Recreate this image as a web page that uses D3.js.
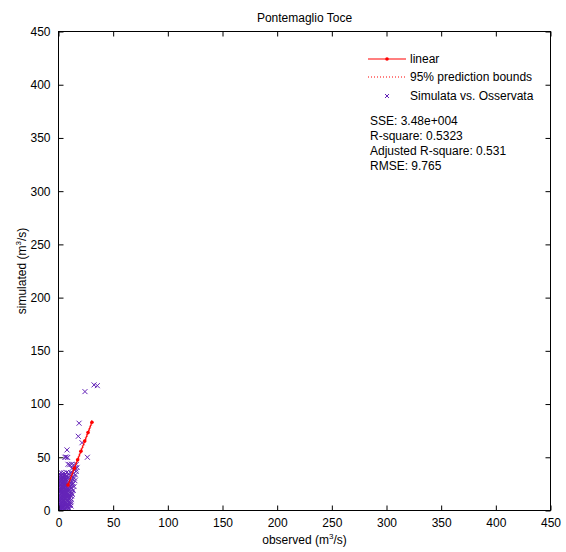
<!DOCTYPE html>
<html><head><meta charset="utf-8">
<script src="https://cdn.jsdelivr.net/npm/d3@7"></script>
<style>body{margin:0;background:#fff;} text{font-family:"Liberation Sans",Arial,sans-serif;}</style>
</head><body><svg id="c" width="566" height="552"></svg>
<script>
const title = "Pontemaglio Toce";
const xTicks = [0,50,100,150,200,250,300,350,400,450];
const yTicks = [0,50,100,150,200,250,300,350,400,450];
// observed vs simulated scatter
const obsX = [0.6,1.4,2.1,3.0,3.8,4.6,5.5,6.3,7.2,8.1,9.0,10.2,
0.8,1.7,2.5,3.4,4.2,5.1,6.0,6.9,7.8,8.7,9.6,10.8,11.5,
0.5,1.3,2.2,3.1,3.9,4.8,5.7,6.6,7.5,8.4,9.3,10.4,11.2,
0.7,1.6,2.4,3.3,4.1,5.0,5.9,6.8,7.7,8.6,9.5,10.6,11.8,
0.6,1.5,2.3,3.2,4.0,4.9,5.8,6.7,7.6,8.5,9.4,10.5,11.9,12.6,
0.8,1.7,2.6,3.5,4.3,5.2,6.1,7.0,7.9,8.8,9.8,10.9,12.2,
0.5,1.4,2.3,3.2,4.1,5.0,5.9,6.8,7.7,8.6,9.6,10.8,12.0,
0.7,1.6,2.5,3.4,4.2,5.1,6.0,6.9,7.8,8.9,10.0,11.3,12.8,
0.6,1.5,2.4,3.3,4.1,5.0,5.9,6.8,7.8,9.0,10.3,11.7,13.5,
0.8,1.7,2.6,3.5,4.4,5.3,6.2,7.2,8.3,9.6,11.0,12.5,
0.9,1.9,2.8,3.8,4.7,5.7,6.7,7.8,9.2,10.7,13.0,
1.2,2.4,3.6,4.9,6.1,7.5,9.3,11.5,14.0,
14.5,15.5,16.2,13.8,12.3,15.0,14.2,13.5,15.8,17.0,
1.1,2.8,4.4,6.6,8.3,1.9,3.6,5.4,7.4,9.9,1.0,3.0,4.7,6.4,8.0,
2.0,3.9,5.6,7.1,1.3,3.3,5.3,7.6,2.6,4.5,6.5,
5.9,7.0,8.4,7.8,8.7,10.3,12.0,14.0,16.2,18.1,18.8,21.5,26.4,24.2,32.5,35.5];
const simY = [1.2,0.5,2.3,1.1,2.8,0.9,2.0,1.4,2.6,1.0,2.2,1.5,
4.5,5.8,4.1,5.3,4.0,6.1,4.6,5.5,4.3,6.0,4.8,5.6,4.2,
7.6,8.9,7.2,8.4,7.0,9.1,7.8,8.6,7.3,9.0,7.9,8.5,7.4,
10.5,11.8,10.1,11.3,10.0,12.0,10.8,11.6,10.3,12.1,10.9,11.5,10.2,
13.4,14.8,13.1,14.3,13.0,15.1,13.7,14.6,13.3,15.0,13.9,14.4,13.5,15.2,
16.6,17.9,16.2,17.4,16.0,18.1,16.8,17.6,16.4,18.0,16.9,17.5,16.3,
19.5,20.9,19.2,20.4,19.0,21.1,19.8,20.6,19.3,21.0,19.9,20.5,21.2,
22.6,23.9,22.2,23.4,22.0,24.1,22.8,23.6,22.3,24.0,22.9,23.5,24.3,
25.5,26.8,25.2,26.4,25.0,27.1,25.8,26.5,25.3,27.0,25.9,26.6,25.4,
28.6,29.9,28.2,29.4,28.0,30.1,28.8,29.6,28.3,30.0,28.9,29.5,
31.5,32.8,31.2,32.4,31.0,33.0,31.8,32.6,31.3,32.9,31.6,
34.5,35.6,34.2,35.3,34.0,35.8,34.6,35.2,34.8,
30.5,33.4,36.8,38.5,39.4,28.0,22.5,19.0,39.0,40.5,
3.0,6.6,2.7,7.1,3.5,9.9,12.7,15.5,9.6,12.2,18.3,21.8,17.9,24.6,20.2,
27.6,30.6,26.9,29.1,0.8,3.8,12.4,5.9,18.8,21.4,15.9,
50.0,50.2,49.8,56.9,43.4,43.0,43.5,42.8,43.2,69.7,82.0,63.7,50.0,111.7,118.0,117.3];
// linear fit and prediction bounds
const fitX = [8.7,14.5,17.5,20.5,24.0,27.0,30.6];
const fitY = [24.0,39.6,47.7,55.7,65.2,73.2,82.9];
const lowY = [21.8,37.5,45.6,53.6,63.0,71.0,80.5];
const uppY = [26.2,41.7,49.8,57.8,67.4,75.4,85.3];
const legendLabels = ["linear","95% prediction bounds","Simulata vs. Osservata"];
const statsLines = ["SSE: 3.48e+004","R-square: 0.5323","Adjusted R-square: 0.531","RMSE: 9.765"];

const svg = d3.select("#c");
const L=58.5, R=550.5, T=31.5, B=510.5;
const x = d3.scaleLinear().domain([0,450]).range([L,R]);
const y = d3.scaleLinear().domain([0,450]).range([B,T]);
const purple = "#6424b8", red = "#ff0000";

svg.append("clipPath").attr("id","clip").append("rect").attr("x",L).attr("y",T).attr("width",R-L).attr("height",B-T);
const g = svg.append("g").attr("clip-path","url(#clip)");
const pts = obsX.map((v,i)=>[v,simY[i]]);
const s=2.5;
g.selectAll("path.m").data(pts).enter().append("path")
  .attr("d",d=>{const px=x(d[0]),py=y(d[1]);return `M${px-s},${py-s}L${px+s},${py+s}M${px-s},${py+s}L${px+s},${py-s}`;})
  .attr("stroke",purple).attr("stroke-width",1).attr("fill","none");
const ln = d3.line().x(d=>x(d[0])).y(d=>y(d[1]));
g.append("path").datum(fitX.map((v,i)=>[v,lowY[i]])).attr("d",ln).attr("fill","none").attr("stroke","#ff6060").attr("stroke-width",1).attr("stroke-dasharray","1,2");
g.append("path").datum(fitX.map((v,i)=>[v,uppY[i]])).attr("d",ln).attr("fill","none").attr("stroke","#ff6060").attr("stroke-width",1).attr("stroke-dasharray","1,2");
g.append("path").datum(fitX.map((v,i)=>[v,fitY[i]])).attr("d",ln).attr("fill","none").attr("stroke",red).attr("stroke-width",1.2);
g.selectAll("circle.f").data(fitX.map((v,i)=>[v,fitY[i]])).enter().append("circle")
  .attr("cx",d=>x(d[0])).attr("cy",d=>y(d[1])).attr("r",1.8).attr("fill",red);

const ax = svg.append("g");
ax.append("rect").attr("x",L).attr("y",T).attr("width",R-L).attr("height",B-T).attr("fill","none").attr("stroke","#000").attr("stroke-width",1);
const tl=5;
const xb = d3.axisBottom(x).tickValues(xTicks).tickSizeInner(-tl).tickSizeOuter(0).tickPadding(8);
const xt = d3.axisTop(x).tickValues(xTicks).tickSizeInner(-tl).tickSizeOuter(0).tickFormat("");
const yl = d3.axisLeft(y).tickValues(yTicks).tickSizeInner(-tl).tickSizeOuter(0).tickPadding(8);
const yr = d3.axisRight(y).tickValues(yTicks).tickSizeInner(-tl).tickSizeOuter(0).tickFormat("");
[[xb,`translate(0,${B})`],[xt,`translate(0,${T})`],[yl,`translate(${L},0)`],[yr,`translate(${R},0)`]].forEach(([a,t])=>{
  const gg = ax.append("g").attr("transform",t).call(a);
  gg.select(".domain").remove();
  gg.selectAll("line").attr("stroke","#000");
  gg.selectAll("text").attr("font-size",12).attr("fill","#000").attr("font-family","'Liberation Sans',Arial,sans-serif");
});

svg.append("text").attr("x",(L+R)/2).attr("y",22).attr("text-anchor","middle").attr("font-size",12).text(title);
const xl = svg.append("text").attr("x",(L+R)/2).attr("y",544).attr("text-anchor","middle").attr("font-size",12);
xl.append("tspan").text("observed (m");
xl.append("tspan").attr("font-size",8).attr("dy",-5).text("3");
xl.append("tspan").attr("dy",5).text("/s)");
const ylab = svg.append("text").attr("transform",`translate(26,${(T+B)/2}) rotate(-90)`).attr("text-anchor","middle").attr("font-size",12);
ylab.append("tspan").text("simulated (m");
ylab.append("tspan").attr("font-size",8).attr("dy",-5).text("3");
ylab.append("tspan").attr("dy",5).text("/s)");

const lg = svg.append("g");
const ly = [59,77,96];
lg.append("line").attr("x1",368).attr("x2",406).attr("y1",ly[0]).attr("y2",ly[0]).attr("stroke",red).attr("stroke-width",1.2);
lg.append("circle").attr("cx",387).attr("cy",ly[0]).attr("r",1.8).attr("fill",red);
lg.append("line").attr("x1",368).attr("x2",406).attr("y1",ly[1]).attr("y2",ly[1]).attr("stroke",red).attr("stroke-width",1).attr("stroke-dasharray","1,2");
const mx=387, my=ly[2], ms=2;
lg.append("path").attr("d",`M${mx-ms},${my-ms}L${mx+ms},${my+ms}M${mx-ms},${my+ms}L${mx+ms},${my-ms}`).attr("stroke",purple).attr("fill","none");
legendLabels.forEach((t,i)=>lg.append("text").attr("x",410).attr("y",ly[i]+4).attr("font-size",12).text(t));
statsLines.forEach((t,i)=>svg.append("text").attr("x",370).attr("y",125+i*15).attr("font-size",12).text(t));
</script></body></html>
